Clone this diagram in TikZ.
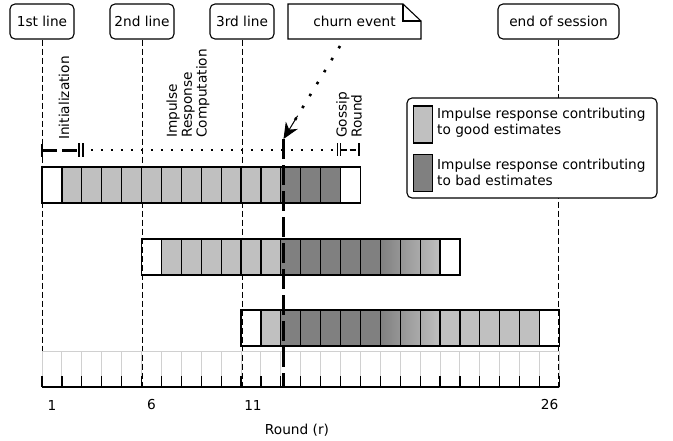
\documentclass[tikz,border=0pt]{standalone}
\usepackage{fontspec}
\setmainfont{DejaVu Sans}
\usetikzlibrary{arrows.meta,calc}
\definecolor{good}{HTML}{C0C0C0}
\definecolor{bad}{HTML}{808080}
\definecolor{gridc}{HTML}{D0D0D0}
\begin{document}
\begin{tikzpicture}[x=1pt,y=-1pt,
  font=\fontsize{13.7}{16}\selectfont,
  lbl/.style={draw, rounded corners=5pt, line width=1.1pt, minimum width=64pt,
              minimum height=35pt, inner sep=0pt, fill=white},
  vline/.style={line width=0.8pt, dash pattern=on 6pt off 3pt},
  cellb/.style={draw=black, line width=1.2pt},
  outerb/.style={draw=black, line width=1.8pt},
  rotlbl/.style={rotate=90, anchor=west, align=left, inner sep=0pt,
                 font=\fontsize{13.7}{14.8}\selectfont},
  tickb/.style={line width=1.2pt},
  swatch/.style={draw, line width=1.2pt, minimum width=19pt, minimum height=37pt, inner sep=0pt}
]
\useasboundingbox (0,0) rectangle (673,440);
\def\cw{19.9}
% axis reference
\coordinate (ax) at (0,387);

% top labels
\node[lbl] (l1) at (42,21.5) {1st line};
\node[lbl] (l2) at (142,21.5) {2nd line};
\node[lbl] (l3) at (242,21.5) {3rd line};
\node[lbl, minimum width=121pt] (les) at (558.5,21.5) {end of session};
% churn note
\draw[line width=1.1pt, fill=white] (288,4) -- (403,4) -- (421,21) -- (421,39) -- (288,39) -- cycle;
\draw[line width=1.1pt] (403,4) -- (403,21) -- (421,21);
\node[inner sep=0pt] (churn) at (354.5,21.5) {churn event};

% vertical dashed lines
\draw[vline] (l1.south) -- (l1.south |- ax);
\draw[vline] (l2.south) -- (l2.south |- ax);
\draw[vline] (l3.south) -- (l3.south |- ax);
\draw[vline] (les.south) -- (les.south |- ax);

% rotated labels
\node[rotlbl] (init) at (64,140) {Initialization};
\node[rotlbl] (irc) at (188,138) {Impulse\\Response\\Computation};
\node[rotlbl] (gr) at (349,138) {Gossip\\Round};

% timeline row
\draw[line width=1.6pt] (42,144) -- (42,157);
\draw[line width=2.4pt, dash pattern=on 15pt off 5pt] (42,150.5) -- (77,150.5);
\draw[tickb] (79,143) -- (79,157) (83,143) -- (83,157);
\draw[line width=1.8pt, dash pattern=on 1.8pt off 8.2pt] (91,150) -- (335,150);
\draw[tickb] (337.5,143) -- (337.5,156) (340.5,143) -- (340.5,156) (359,143) -- (359,156);
\draw[tickb, dash pattern=on 6pt off 3pt] (340.5,150) -- (359,150);

% ---- bar 1 (rounds 1..16)
\def\yA{167}
\foreach \i in {2,...,12} \draw[cellb, fill=good] ({42+(\i-1)*\cw},\yA) rectangle ++(\cw,36);
\foreach \i in {13,...,15} \draw[cellb, fill=bad] ({42+(\i-1)*\cw},\yA) rectangle ++(\cw,36);
\draw[outerb] (42,\yA) rectangle ({42+16*\cw},\yA+36);

% ---- bar 2 (rounds 6..21)
\def\yB{239}
\foreach \i in {7,...,12} \draw[cellb, fill=good] ({42+(\i-1)*\cw},\yB) rectangle ++(\cw,36);
\foreach \i in {13,...,17} \draw[cellb, fill=bad] ({42+(\i-1)*\cw},\yB) rectangle ++(\cw,36);
\shade[left color=bad, right color=good] ({42+17*\cw},\yB) rectangle ({42+20*\cw},\yB+36);
\foreach \i in {18,...,20} \draw[cellb] ({42+(\i-1)*\cw},\yB) rectangle ++(\cw,36);
\draw[outerb] ({42+5*\cw},\yB) rectangle ({42+21*\cw},\yB+36);

% ---- bar 3 (rounds 11..26)
\def\yC{310}
\foreach \i in {12,21,22,23,24,25} \draw[cellb, fill=good] ({42+(\i-1)*\cw},\yC) rectangle ++(\cw,36);
\foreach \i in {13,...,17} \draw[cellb, fill=bad] ({42+(\i-1)*\cw},\yC) rectangle ++(\cw,36);
\shade[left color=bad, right color=good] ({42+17*\cw},\yC) rectangle ({42+20*\cw},\yC+36);
\foreach \i in {18,...,20} \draw[cellb] ({42+(\i-1)*\cw},\yC) rectangle ++(\cw,36);
\draw[outerb] ({42+10*\cw},\yC) rectangle ({42+26*\cw},\yC+36);

% ---- grid / axis
\foreach \i in {1,...,26} \draw[gridc, line width=1pt] ({42+(\i-1)*\cw},351) rectangle ++(\cw,36);
\foreach \i in {0,...,26} \draw[tickb] ({42+\i*\cw},376) -- ++(0,11);
\draw[tickb] (42,387) -- ({42+26*\cw},387);

% axis labels
\node (n1) at (52,405) {1};
\node (n6) at (151.5,405) {6};
\node (n11) at (253,405) {11};
\node (n26) at (549.5,405) {26};
\node (rl) at (297,430) {Round (r)};

% churn event marker
\coordinate (cs) at (340,46);
\coordinate (cp) at (283.5,139);
\coordinate (cb) at (283.5,387);
\draw[line width=3.5pt, dash pattern=on 20pt off 6pt] (cp) -- (cb);
\draw[line width=2.6pt, dash pattern=on 2.6pt off 11.4pt] (cs) -- ($(cs)!0.84!(cp)$);
\draw[line width=1pt, -{Stealth[length=16pt,width=14pt,inset=5pt]}] ($(cs)!0.75!(cp)$) -- (cp);

% legend
\node[draw, rounded corners=5pt, line width=1.1pt, fill=white, minimum width=250pt,
      minimum height=100pt, inner sep=0pt] (leg) at (532,148) {};
\node[swatch, fill=good] (sw1) at (423,124.5) {};
\node[swatch, fill=bad] (sw2) at (423,173) {};
\node[anchor=west, align=left, inner sep=0pt] (t1) at (437,123) {Impulse response contributing\\to good estimates};
\node[anchor=west, align=left, inner sep=0pt] (t2) at (437,172) {Impulse response contributing\\to bad estimates};
\end{tikzpicture}
\end{document}
